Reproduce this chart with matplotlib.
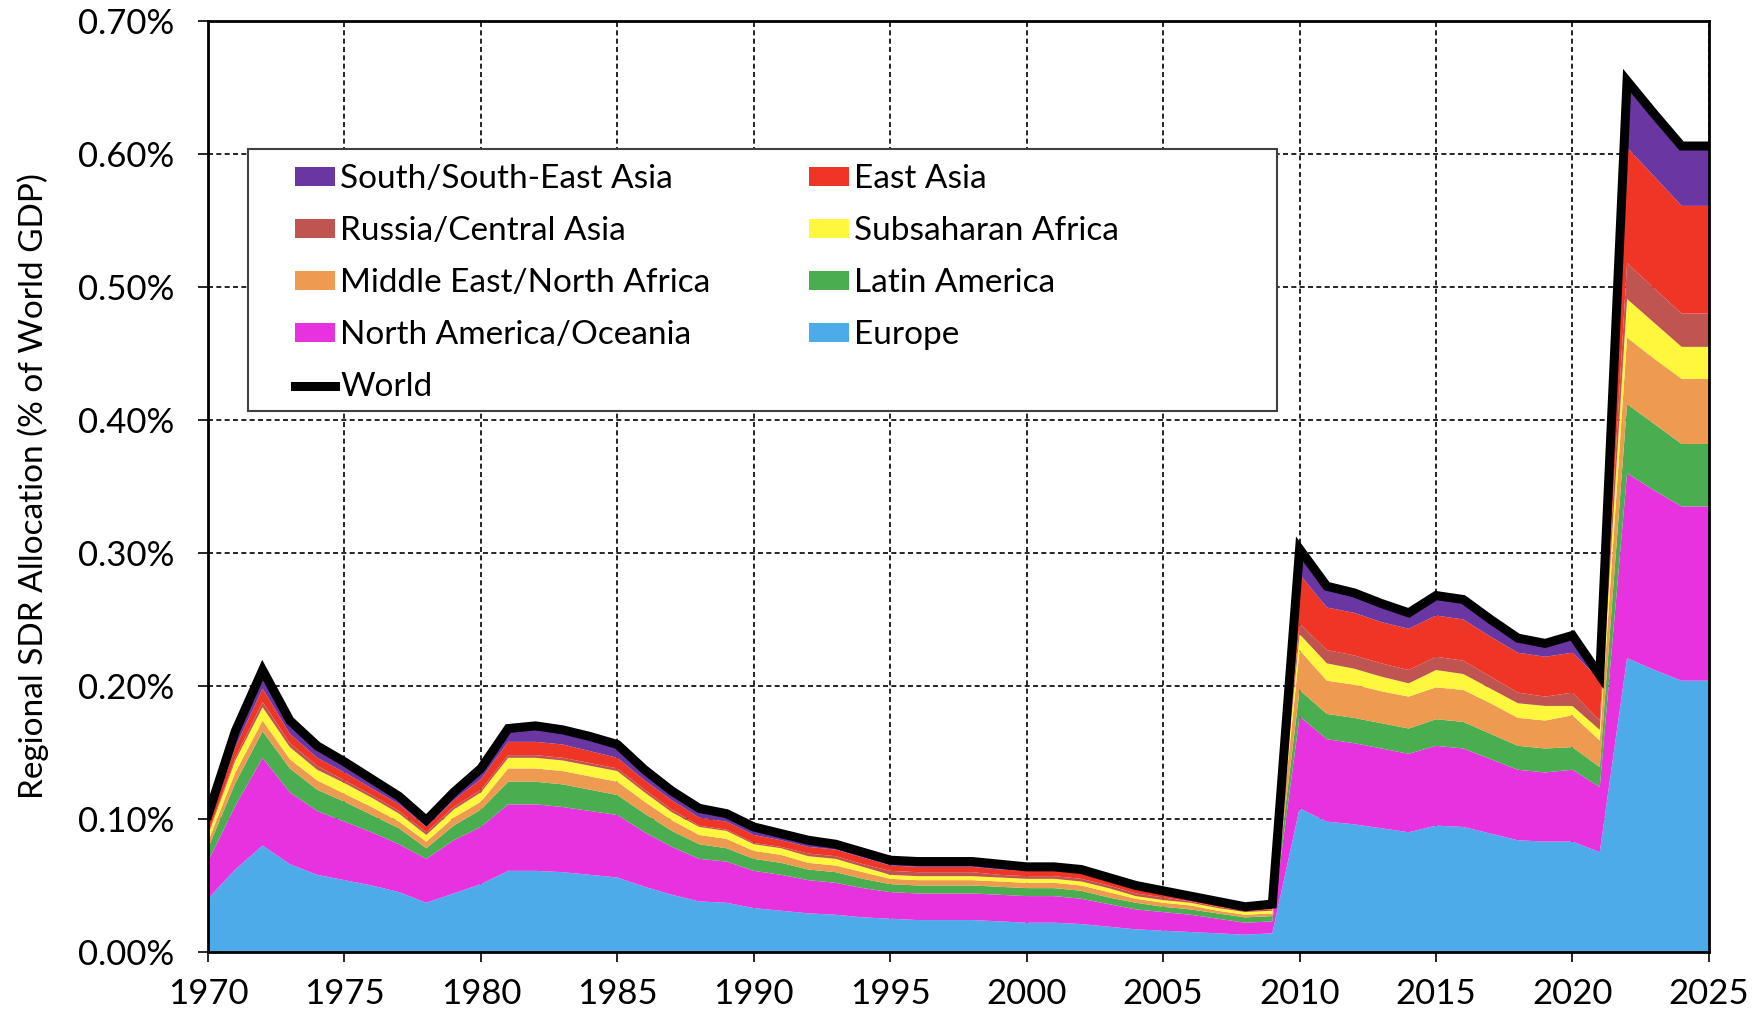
import matplotlib
matplotlib.use("Agg")
import matplotlib.pyplot as plt
from matplotlib.patches import Rectangle
from matplotlib.ticker import FuncFormatter, MultipleLocator
import numpy as np

plt.rcParams['font.family'] = ['Lato', 'DejaVu Sans']

years = list(range(1970, 2026))

# values in % of world GDP
europe = [.040, .062, .080, .066, .058, .054, .050, .045, .037, .044,
          .051, .061, .061, .060, .058, .056, .049, .043, .038, .037,
          .033, .031, .029, .028, .026, .025, .024, .024, .024, .023,
          .022, .022, .021, .019, .017, .016, .015, .014, .013, .014,
          .108, .098, .096, .093, .090, .095, .094, .089, .084, .083,
          .083, .075, .221, .212, .204, .204]
north_america = [.028, .048, .066, .054, .048, .044, .040, .036, .033, .040,
                 .043, .050, .050, .049, .048, .047, .041, .036, .032, .031,
                 .028, .027, .025, .024, .022, .020, .020, .020, .020, .020,
                 .020, .020, .019, .017, .015, .014, .013, .011, .009, .009,
                 .069, .062, .061, .060, .059, .060, .059, .056, .053, .052,
                 .054, .049, .139, .135, .131, .131]
latin_america = [.010, .017, .020, .018, .016, .015, .013, .012, .008, .011,
                 .013, .017, .017, .017, .016, .015, .014, .012, .011, .010,
                 .009, .009, .008, .008, .007, .006, .006, .006, .006, .006,
                 .006, .006, .006, .005, .005, .004, .004, .004, .004, .004,
                 .020, .019, .019, .019, .019, .020, .020, .019, .018, .018,
                 .017, .015, .052, .050, .047, .047]
mena = [.005, .008, .008, .007, .007, .006, .006, .005, .005, .006,
        .006, .010, .010, .010, .010, .010, .009, .008, .007, .007,
        .006, .006, .005, .005, .005, .004, .004, .004, .004, .004,
        .004, .004, .004, .004, .003, .003, .003, .002, .002, .002,
        .030, .025, .025, .024, .024, .024, .024, .023, .021, .021,
        .024, .020, .050, .049, .049, .049]
subsaharan = [.005, .009, .010, .009, .008, .008, .007, .006, .005, .006,
              .007, .008, .008, .008, .008, .008, .007, .006, .006, .006,
              .005, .005, .005, .005, .004, .003, .003, .003, .003, .003,
              .003, .003, .003, .003, .002, .002, .002, .002, .002, .002,
              .012, .013, .012, .011, .010, .013, .012, .011, .011, .011,
              .007, .008, .029, .027, .024, .024]
russia = [.001, .002, .004, .003, .003, .002, .002, .002, .002, .002,
          .002, .002, .002, .002, .002, .002, .002, .002, .001, .001,
          .001, .001, .002, .002, .002, .003, .003, .003, .003, .002,
          .002, .002, .002, .002, .002, .002, .001, .001, .001, .001,
          .008, .010, .010, .010, .010, .010, .010, .009, .008, .007,
          .010, .007, .027, .026, .025, .025]
east_asia = [.005, .008, .010, .007, .006, .006, .005, .005, .004, .005,
             .008, .010, .010, .010, .009, .008, .007, .007, .006, .006,
             .006, .005, .005, .005, .005, .004, .004, .004, .004, .004,
             .004, .004, .004, .003, .003, .003, .002, .002, .002, .002,
             .037, .032, .032, .031, .031, .031, .031, .030, .030, .030,
             .030, .031, .087, .084, .081, .081]
south_asia = [.009, .012, .014, .010, .009, .008, .007, .006, .005, .006,
              .008, .010, .012, .011, .011, .010, .008, .007, .007, .006,
              .006, .005, .005, .004, .004, .004, .004, .004, .004, .004,
              .003, .003, .003, .003, .003, .002, .002, .002, .001, .002,
              .019, .016, .015, .014, .012, .015, .015, .013, .011, .010,
              .013, .003, .050, .047, .045, .045]

labels = ["Europe", "North America/Oceania", "Latin America",
          "Middle East/North Africa", "Subsaharan Africa",
          "Russia/Central Asia", "East Asia", "South/South-East Asia"]
colors = ["#4DABE9", "#E733DF", "#4AAE50", "#EE9A50", "#FFF73D",
          "#BF5450", "#EE3526", "#6A36A2"]

series = [europe, north_america, latin_america, mena, subsaharan,
          russia, east_asia, south_asia]
world = np.sum(np.array(series), axis=0)

fig = plt.figure(figsize=(17.54, 10.15), dpi=100)
ax = fig.add_axes([0.1186, 0.0621, 0.8557, 0.9172])

polys = ax.stackplot(years, *series, colors=colors, labels=labels, linewidth=0)
line, = ax.plot(years, world, color="black", linewidth=6.5,
                solid_joinstyle="miter", label="World")

ax.set_xlim(1970, 2025)
ax.set_ylim(0, 0.70)
ax.xaxis.set_major_locator(MultipleLocator(5))
ax.yaxis.set_major_locator(MultipleLocator(0.10))
ax.yaxis.set_major_formatter(FuncFormatter(lambda v, p: "%.2f%%" % v))
ax.grid(True, color="black", linestyle=(0, (3, 2)), linewidth=1.2)
ax.set_axisbelow(True)
ax.tick_params(axis="both", labelsize=25, direction="out", width=1.2,
               colors="black")
ax.tick_params(axis="y", length=7, pad=17)
ax.tick_params(axis="x", length=7, pad=12)
for s in ax.spines.values():
    s.set_linewidth(2)
    s.set_color("black")
    s.set_zorder(5)

ax.set_ylabel("Regional SDR Allocation (% of World GDP)", fontsize=24)
ax.yaxis.set_label_coords(-0.106, 0.5)

# legend box, with room to spare on the right as in the original
ax.add_patch(Rectangle((0.0266, 0.581), 0.6856, 0.2815, transform=ax.transAxes,
                       facecolor="white", edgecolor="#404040", linewidth=1.5,
                       zorder=9))

# legend filled column-wise: left column then right column
handles = [polys[7], polys[5], polys[3], polys[1], line,
           polys[6], polys[4], polys[2], polys[0]]
names = ["South/South-East Asia", "Russia/Central Asia",
         "Middle East/North Africa", "North America/Oceania", "World",
         "East Asia", "Subsaharan Africa", "Latin America", "Europe"]
leg = ax.legend(handles, names, ncol=2, fontsize=24, loc="upper left",
                bbox_to_anchor=(0.058, 0.846), frameon=False,
                handlelength=1.2, handleheight=0.5, handletextpad=0.15,
                columnspacing=2.97, labelspacing=0.66, borderpad=0,
                borderaxespad=0)
leg.set_zorder(10)

fig.savefig("out.png", dpi=100)
